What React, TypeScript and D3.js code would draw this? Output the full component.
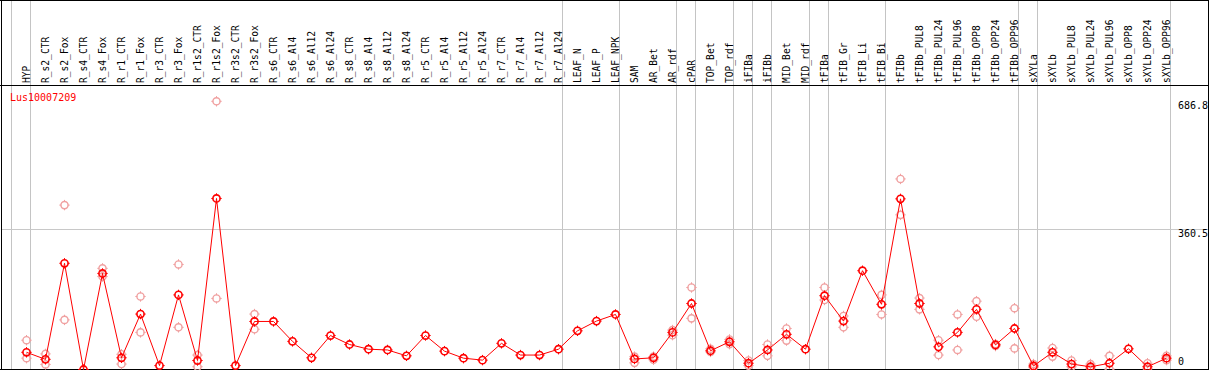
import React from 'react';
import * as d3 from 'd3';

const categories = [
  'HYP', 'R_s2_CTR', 'R_s2_Fox', 'R_s4_CTR', 'R_s4_Fox', 'R_r1_CTR', 'R_r1_Fox', 'R_r3_CTR', 'R_r3_Fox',
  'R_r1s2_CTR', 'R_r1s2_Fox', 'R_r3s2_CTR', 'R_r3s2_Fox', 'R_s6_CTR', 'R_s6_Al4', 'R_s6_Al12', 'R_s6_Al24',
  'R_s8_CTR', 'R_s8_Al4', 'R_s8_Al12', 'R_s8_Al24', 'R_r5_CTR', 'R_r5_Al4', 'R_r5_Al12', 'R_r5_Al24',
  'R_r7_CTR', 'R_r7_Al4', 'R_r7_Al12', 'R_r7_Al24', 'LEAF_N', 'LEAF_P', 'LEAF_NPK', 'SAM', 'AR_Bet', 'AR_rdf',
  'cPAR', 'TOP_Bet', 'TOP_rdf', 'iFIBa', 'iFIBb', 'MID_Bet', 'MID_rdf', 'tFIBa', 'tFIB_Gr', 'tFIB_Li', 'tFIB_Bi',
  'tFIBb', 'tFIBb_PUL8', 'tFIBb_PUL24', 'tFIBb_PUL96', 'tFIBb_OPP8', 'tFIBb_OPP24', 'tFIBb_OPP96',
  'sXYLa', 'sXYLb', 'sXYLb_PUL8', 'sXYLb_PUL24', 'sXYLb_PUL96', 'sXYLb_OPP8', 'sXYLb_OPP24', 'sXYLb_OPP96',
];

const means = [
  44, 26, 272, 0, 246, 30, 142, 10, 191, 23, 438, 10, 123, 123, 72, 30, 87, 64, 52, 50, 35, 87, 47, 29, 24,
  67, 37, 37, 52, 99, 124, 141, 27, 30, 95, 169, 48, 71, 16, 50, 90, 52, 189, 124, 253, 167, 437, 169, 58, 95,
  154, 63, 105, 9, 44, 14, 7, 16, 53, 7, 29,
];

const repA: (number | null)[] = [
  75, 40, 421, null, 259, 39, 187, null, 269, 37, 686.8, null, 142, null, null, null, null, null, null, null,
  null, null, null, null, null, null, null, null, null, null, null, null, 33, 33, 101, 210, 53, 77, 23, 64, 105,
  null, 210, 137, null, 191, 488, 183, 75, 141, 175, 65, 157, 14, 55, 23, 14, 35, null, 16, 35,
];

const repB: (number | null)[] = [
  29, 13, 127, null, 238, 14, 95, null, 108, 7, 182, null, 103, null, null, null, null, null, null, null,
  null, null, null, null, null, null, null, null, null, null, null, null, 17, 25, 88, 131, 45, 65, 10, 35, 74,
  null, 178, 108, null, 141, 396, 154, 37, 50, 135, 60, 54, 5, 33, 7, 3, 1, null, 2, 24,
];

const groupStarts = [0, 1, 29, 32, 35, 36, 38, 39, 40, 42, 43, 46, 53, 54, 61];
const yTicks = [686.8, 360.5, 0];
const gridTicks = [360.5];
const geneLabel = 'Lus10007209';

const W = 1209;
const H = 370;
const MONO = '"DejaVu Sans Mono", "Liberation Mono", monospace';

function Marker({ cx, cy, color, sw }: { cx: number; cy: number; color: string; sw: number }) {
  const r = 3.6;
  return (
    <g stroke={color} fill="none">
      <circle cx={cx} cy={cy} r={r} strokeWidth={sw} />
      <line x1={cx} x2={cx} y1={cy - r - 1.6} y2={cy - r + 0.4} strokeWidth={1} />
      <line x1={cx} x2={cx} y1={cy + r - 0.4} y2={cy + r + 1.6} strokeWidth={1} />
      <line x1={cx - r - 1.6} x2={cx - r + 0.4} y1={cy} y2={cy} strokeWidth={1} />
      <line x1={cx + r - 0.4} x2={cx + r + 1.6} y1={cy} y2={cy} strokeWidth={1} />
    </g>
  );
}

export default function App() {
  const n = categories.length;
  const x = d3.scaleLinear().domain([0, n - 1]).range([26.5, 26.5 + 19 * (n - 1)]);
  const y = d3.scaleLinear().domain([0, 686.8]).range([369.5, 101.3]);
  const line = d3
    .line<number>()
    .x((_, i) => x(i))
    .y((d) => y(d));

  const reps: { i: number; v: number }[] = [];
  repA.forEach((v, i) => v != null && reps.push({ i, v }));
  repB.forEach((v, i) => v != null && reps.push({ i, v }));

  return (
    <div style={{ position: 'absolute', left: 0, top: 0 }}>
      <svg width={W} height={H} style={{ display: 'block', background: '#fff' }}>
        {/* group separators */}
        {groupStarts.map((g) => {
          const gx = Math.round(x(g) - 16) + 0.5;
          return <line key={g} x1={gx} x2={gx} y1={0} y2={369} stroke="#c4c4c4" strokeWidth={1} />;
        })}
        {/* grid */}
        {gridTicks.map((t) => {
          const gy = Math.round(y(t)) + 0.5;
          return <line key={t} x1={1} x2={1208} y1={gy} y2={gy} stroke="#c8c8c8" strokeWidth={1} />;
        })}
        {/* frame */}
        <line x1={0} x2={1209} y1={0.5} y2={0.5} stroke="#000" />
        <line x1={0} x2={1209} y1={85.5} y2={85.5} stroke="#000" />
        <line x1={0} x2={1209} y1={369.5} y2={369.5} stroke="#000" />
        <line x1={1.5} x2={1.5} y1={0} y2={370} stroke="#000" />
        <line x1={1208.5} x2={1208.5} y1={0} y2={370} stroke="#000" />
        {/* category labels */}
        {categories.map((c, i) => (
          <text
            key={c}
            transform={`translate(${x(i)},83) rotate(-90)`}
            fontFamily={MONO}
            fontSize={9.6}
            dominantBaseline="central"
            fill="#000"
          >
            {c}
          </text>
        ))}
        {/* gene label */}
        <text x={10} y={101} fontFamily={MONO} fontSize={10} fill="#ff0000">
          {geneLabel}
        </text>
        {/* y labels */}
        {yTicks.map((t) => (
          <text key={t} x={1178} y={Math.min(y(t) + 8, 365)} fontFamily={MONO} fontSize={10} fill="#000">
            {String(t)}
          </text>
        ))}
        {/* replicates */}
        {reps.map((r, k) => (
          <Marker key={'r' + k} cx={x(r.i)} cy={y(r.v)} color="#f0a0a0" sw={1.4} />
        ))}
        {/* mean line */}
        <path d={line(means) || ''} fill="none" stroke="#ff0000" strokeWidth={1} />
        {means.map((v, i) => (
          <Marker key={'m' + i} cx={x(i)} cy={y(v)} color="#ff0000" sw={1.6} />
        ))}
      </svg>
    </div>
  );
}
